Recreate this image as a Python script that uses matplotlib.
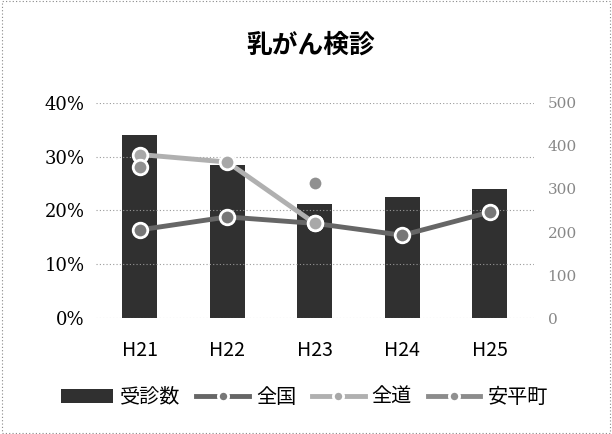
import matplotlib.pyplot as plt
import numpy as np
from matplotlib.patches import Rectangle

plt.rcParams['font.family'] = ['Noto Sans CJK JP', 'DejaVu Sans']

# データ
years = ['H21', 'H22', 'H23', 'H24', 'H25']
jushin = [426, 356, 264, 281, 299]          # 受診数 (右軸)
zenkoku = [16.4, 18.8, 17.6, 15.4, 19.7]     # 全国 (%)
zendou = [30.4, 29.0, 17.6, np.nan, np.nan]  # 全道 (%)
abira = [28.0, np.nan, 25.2, np.nan, np.nan] # 安平町 (%)

fig = plt.figure(figsize=(6.12, 4.34), dpi=100)
ax = fig.add_axes([0.157, 0.267, 0.715, 0.496])
ax2 = ax.twinx()

x = np.arange(len(years))

# 棒グラフ (受診数)
ax2.bar(x, jushin, width=0.4, color='#303030', label='受診数', zorder=1)
ax2.set_ylim(0, 500)
ax2.set_yticks(range(0, 501, 100))

# 折れ線
ax.set_zorder(ax2.get_zorder() + 1)
ax.patch.set_visible(False)
ax.plot(x, np.array(zenkoku) / 100, color='#666666', lw=3.5, marker='o', ms=10.5,
        mfc='#777777', mec='white', mew=2, label='全国')
ax.plot(x, np.array(zendou) / 100, color='#b0b0b0', lw=3.5, marker='o', ms=10.5,
        mfc='#a8a8a8', mec='white', mew=2, label='全道')
ax.plot(x, np.array(abira) / 100, color='#8c8c8c', lw=3.5, marker='o', ms=10.5,
        mfc='#909090', mec='white', mew=2, label='安平町')

ax.set_ylim(0, 0.4)
ax.set_yticks([0, 0.1, 0.2, 0.3, 0.4])
ax.set_yticklabels(['0%', '10%', '20%', '30%', '40%'], family='DejaVu Serif', fontsize=13)
ax.set_xlim(-0.5, 4.5)
ax.set_xticks(x)
ax.set_xticklabels(years, fontsize=14)

ax2.set_yticklabels([str(v) for v in range(0, 501, 100)], family='DejaVu Serif',
                    fontsize=11, color='#888888')

# 目盛線
ax2.grid(False)
for v in [0, 0.1, 0.2, 0.3, 0.4]:
    ax.axhline(v, color='#999999', lw=0.8, ls=(0, (1, 2)), zorder=0)

for a in (ax, ax2):
    for s in a.spines.values():
        s.set_visible(False)
    a.tick_params(length=0)
ax.tick_params(axis='y', pad=8)
ax.tick_params(axis='x', pad=16)
ax2.tick_params(axis='y', pad=10)

fig.text(0.507, 0.895, '乳がん検診', ha='center', va='center', fontsize=18.5, fontweight='bold')

# 凡例
h1, l1 = ax2.get_legend_handles_labels()
h2, l2 = ax.get_legend_handles_labels()
fig.legend(h1 + h2, l1 + l2, loc='center', bbox_to_anchor=(0.497, 0.085), ncol=4,
           frameon=False, fontsize=14.5, handlelength=2.6, columnspacing=0.8,
           handletextpad=0.35, markerscale=0.7)

# 外枠
fig.patches.append(Rectangle((0.003, 0.003), 0.994, 0.994, transform=fig.transFigure,
                             fill=False, ec='#888888', lw=0.8, ls=(0, (1, 2))))

fig.savefig('out.png', dpi=100)
